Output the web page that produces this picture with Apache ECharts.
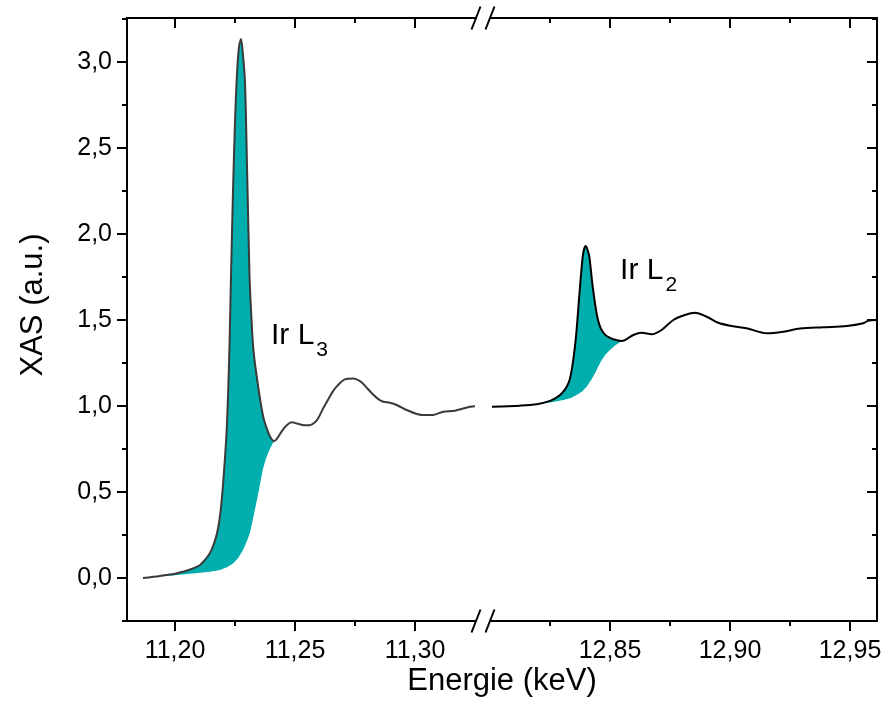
<!DOCTYPE html>
<html><head><meta charset="utf-8">
<script src="https://cdn.jsdelivr.net/npm/echarts@6/dist/echarts.min.js"></script>
<style>html,body{margin:0;padding:0;background:#fff}#c{width:887px;height:718px}</style>
</head><body><div id="c"></div>
<script>
// ---------------- data ----------------
const l3Energy = [11.18667,11.19375,11.2000,11.20542,11.20833,11.21042,11.2125,11.21458,11.21625,11.2175,11.21833,11.21917,11.2200,11.22083,11.22146,11.22208,11.22271,11.22333,11.22417,11.2250,11.22583,11.22667,11.2275,11.22833,11.22917,11.2300,11.23104,11.23167,11.23271,11.23479,11.23688,11.23875,11.2400,11.24125,11.2425,11.24458,11.24667,11.24875,11.25083,11.25292,11.25625,11.25833,11.2596,11.2617,11.2637,11.2658,11.2678,11.2708,11.2743,11.2775,11.2800,11.2820,11.2847,11.2868,11.2895,11.2924,11.2965,11.3028,11.3076,11.3118,11.3167,11.3229,11.3250];
const l3Xas    = [0.000,0.012,0.025,0.045,0.060,0.076,0.105,0.145,0.200,0.260,0.320,0.410,0.540,0.700,0.840,1.050,1.350,1.750,2.250,2.650,2.930,3.090,3.133,3.040,2.880,2.400,1.760,1.560,1.320,1.100,0.930,0.850,0.812,0.795,0.810,0.855,0.890,0.905,0.898,0.890,0.888,0.905,0.927,0.985,1.035,1.085,1.120,1.155,1.160,1.140,1.105,1.074,1.040,1.025,1.019,1.006,0.977,0.948,0.948,0.967,0.973,0.996,0.998];
const l3EdgeEnergy = [11.18667,11.19375,11.2000,11.20625,11.21042,11.21458,11.21875,11.22167,11.22417,11.22625,11.22833,11.23,11.23125,11.23229,11.23333,11.23438,11.23542,11.23667,11.23792,11.23917,11.24042,11.24125];
const l3EdgeXas    = [0.000,0.008,0.016,0.025,0.030,0.036,0.047,0.062,0.085,0.115,0.163,0.215,0.265,0.330,0.400,0.470,0.545,0.635,0.695,0.740,0.775,0.795];

const l2Energy = [12.80083,12.8125,12.81946,12.8250,12.8275,12.82917,12.83063,12.83196,12.83313,12.83404,12.8350,12.83583,12.83667,12.8375,12.83863,12.83925,12.83988,12.84054,12.84138,12.84279,12.84417,12.8450,12.84613,12.8473,12.84863,12.85138,12.85488,12.85971,12.8632,12.8674,12.8715,12.8764,12.8812,12.8854,12.8903,12.8951,12.9000,12.9069,12.9153,12.9222,12.9292,12.9389,12.9486,12.9555,12.9576,12.9610];
const l2Xas    = [0.996,1.002,1.010,1.030,1.048,1.064,1.085,1.112,1.150,1.209,1.300,1.403,1.545,1.694,1.868,1.915,1.930,1.912,1.868,1.694,1.558,1.500,1.452,1.425,1.407,1.388,1.378,1.413,1.426,1.417,1.442,1.500,1.529,1.542,1.519,1.484,1.467,1.452,1.423,1.432,1.450,1.458,1.465,1.481,1.496,1.500];
const l2EdgeEnergy = [12.81946,12.8250,12.83054,12.83375,12.83625,12.83833,12.84042,12.84208,12.84375,12.84521,12.84667,12.84833,12.8500,12.85208,12.85488];
const l2EdgeXas    = [1.010,1.020,1.035,1.047,1.065,1.085,1.115,1.150,1.190,1.232,1.270,1.302,1.326,1.352,1.378];

const xRangeLeft  = [11.18, 11.32542];
const xRangeRight = [12.80, 12.96125];
const yRange = [-0.25, 3.2558];
const xTicksLeft  = [11.20, 11.25, 11.30];
const xMinorLeft  = [11.225, 11.275];
const xTicksRight = [12.85, 12.90, 12.95];
const xMinorRight = [12.825, 12.875, 12.925];
const yTicks = [0, 0.5, 1.0, 1.5, 2.0, 2.5, 3.0];
const yMinor = [-0.25, 0.25, 0.75, 1.25, 1.75, 2.25, 2.75, 3.25];

const labelL3 = {text: 'Ir L', sub: '3', at: [11.2400, 1.494]};
const labelL2 = {text: 'Ir L', sub: '2', at: [12.8542, 1.872]};
const xTitle = 'Energie (keV)';
const yTitle = 'XAS (a.u.)';

// ---------------- style ----------------
const FONT = '"Liberation Sans", Arial, Helvetica, sans-serif';
const TEAL = '#00AEAE';
const fmtX = v => v.toFixed(2).replace('.', ',');
const fmtY = v => v.toFixed(1).replace('.', ',');

const gridTop = 18, gridBottom = 97;
const grids = [
  {left: 127, width: 349, top: gridTop, bottom: gridBottom},
  {left: 127, width: 349, top: gridTop, bottom: gridBottom},
  {left: 490, width: 387, top: gridTop, bottom: gridBottom},
  {left: 490, width: 387, top: gridTop, bottom: gridBottom}
].map(g => Object.assign(g, {containLabel: false, outerBoundsMode: 'none', show: false}));

function xAx(grid, pos, range, ticks, len, inside, showLabel, showLine) {
  return {
    type: 'value', gridIndex: grid, position: pos, min: range[0], max: range[1],
    axisLine: {show: showLine, onZero: false, lineStyle: {color: '#000', width: 2}},
    axisTick: {show: true, inside: inside, length: len, customValues: ticks, lineStyle: {color: '#000', width: 2}},
    axisLabel: showLabel ? {show: true, customValues: ticks, formatter: fmtX, fontSize: 25, color: '#000', fontFamily: FONT, margin: 18} : {show: false},
    splitLine: {show: false}, minorTick: {show: false}
  };
}
function yAx(grid, pos, ticks, len, inside, showLabel, showLine) {
  return {
    type: 'value', gridIndex: grid, position: pos, min: yRange[0], max: yRange[1],
    axisLine: {show: showLine, onZero: false, lineStyle: {color: '#000', width: 2}},
    axisTick: {show: true, inside: inside, length: len, customValues: ticks, lineStyle: {color: '#000', width: 2}},
    axisLabel: showLabel ? {show: true, customValues: ticks, formatter: fmtY, fontSize: 25, color: '#000', fontFamily: FONT, margin: 15} : {show: false},
    splitLine: {show: false}, minorTick: {show: false}
  };
}

const xAxes = [
  xAx(0, 'bottom', xRangeLeft, xTicksLeft, 10, false, true, true),
  xAx(0, 'top', xRangeLeft, xTicksLeft, 10, true, false, true),
  xAx(1, 'bottom', xRangeLeft, xMinorLeft, 5, false, false, false),
  xAx(1, 'top', xRangeLeft, xMinorLeft, 5, true, false, false),
  xAx(2, 'bottom', xRangeRight, xTicksRight, 10, false, true, true),
  xAx(2, 'top', xRangeRight, xTicksRight, 10, true, false, true),
  xAx(3, 'bottom', xRangeRight, xMinorRight, 5, false, false, false),
  xAx(3, 'top', xRangeRight, xMinorRight, 5, true, false, false)
];
const yAxes = [
  yAx(0, 'left', yTicks, 10, false, true, true),
  yAx(1, 'left', yMinor, 5, false, false, false),
  yAx(2, 'right', yTicks, 10, true, false, true),
  yAx(3, 'right', yMinor, 5, true, false, false)
];

const zip = (a, b) => a.map((v, i) => [v, b[i]]);

function fillSeries(xi, yi, en, val, edgeE, edgeV) {
  const end = edgeE[edgeE.length - 1];
  return {
    type: 'custom', xAxisIndex: xi, yAxisIndex: yi, z: 1, silent: true,
    data: [[edgeE[0], edgeV[0]]],
    renderItem: function (params, api) {
      const pts = [];
      for (let i = 0; i < en.length; i++) if (en[i] <= end + 1e-9) pts.push(api.coord([en[i], val[i]]));
      for (let i = edgeE.length - 1; i >= 0; i--) pts.push(api.coord([edgeE[i], edgeV[i]]));
      return {type: 'polygon', shape: {points: pts, smooth: 0}, style: {fill: TEAL}};
    }
  };
}
function lineSeries(xi, yi, en, val, color) {
  return {
    type: 'line', xAxisIndex: xi, yAxisIndex: yi, z: 3, data: zip(en, val),
    showSymbol: false, symbol: 'none', smooth: 0.3, clip: true,
    lineStyle: {color: color, width: 2}
  };
}

const chart = echarts.init(document.getElementById('c'), null, {renderer: 'canvas'});
chart.setOption({
  animation: false,
  backgroundColor: '#fff',
  grid: grids,
  xAxis: xAxes,
  yAxis: yAxes,
  series: [
    fillSeries(0, 0, l3Energy, l3Xas, l3EdgeEnergy, l3EdgeXas),
    lineSeries(0, 0, l3Energy, l3Xas, '#3a3a3a'),
    fillSeries(4, 2, l2Energy, l2Xas, l2EdgeEnergy, l2EdgeXas),
    lineSeries(4, 2, l2Energy, l2Xas, '#000')
  ]
});

// ---------------- decorations ----------------
const xBreakL = chart.convertToPixel({xAxisIndex: 0}, xRangeLeft[1]);
const xBreakR = chart.convertToPixel({xAxisIndex: 4}, xRangeRight[0]);
const yTopPx = chart.convertToPixel({yAxisIndex: 0}, yRange[1]);
const yBotPx = chart.convertToPixel({yAxisIndex: 0}, yRange[0]);
const slash = (x, y) => ({type: 'line', shape: {x1: x - 4.5, y1: y + 11.5, x2: x + 4.5, y2: y - 11.5}, style: {stroke: '#000', lineWidth: 2}, z: 10});

function annot(lbl, xi, yi) {
  const p = chart.convertToPixel({xAxisIndex: xi, yAxisIndex: yi}, lbl.at);
  return {
    type: 'text', x: p[0], y: p[1], z: 10,
    style: {
      text: '{m|' + lbl.text + '}{s|' + lbl.sub + '}',
      textAlign: 'left', textVerticalAlign: 'top',
      rich: {
        m: {fontSize: 30, fontFamily: FONT, fill: '#000', verticalAlign: 'top'},
        s: {fontSize: 21, fontFamily: FONT, fill: '#000', verticalAlign: 'top', padding: [19, 0, 0, 2]}
      }
    }
  };
}

const xMid = (chart.convertToPixel({xAxisIndex: 0}, xRangeLeft[0]) + chart.convertToPixel({xAxisIndex: 4}, xRangeRight[1])) / 2;
chart.setOption({
  graphic: [
    slash(xBreakL, yTopPx), slash(xBreakR, yTopPx),
    slash(xBreakL, yBotPx), slash(xBreakR, yBotPx),
    annot(labelL3, 0, 0),
    annot(labelL2, 4, 2),
    {type: 'text', x: xMid, y: 681, z: 10, style: {text: xTitle, fontSize: 31, fontFamily: FONT, fill: '#000', textAlign: 'center', textVerticalAlign: 'middle'}},
    {type: 'text', x: 33, y: 305, rotation: Math.PI / 2, z: 10, style: {text: yTitle, fontSize: 31, fontFamily: FONT, fill: '#000', textAlign: 'center', textVerticalAlign: 'middle'}}
  ]
});
</script>
</body></html>
